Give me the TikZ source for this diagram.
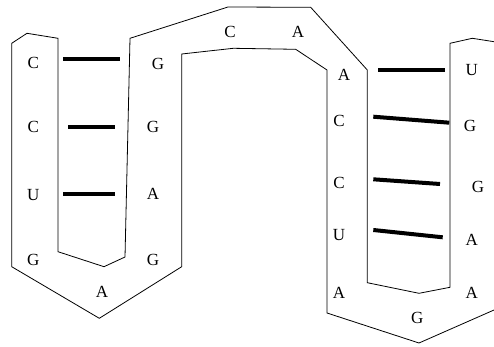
\documentclass[tikz,border=0pt]{standalone}
\usepackage{fontspec}
\setmainfont{Liberation Serif}
\usetikzlibrary{positioning, calc}

\begin{document}
\begin{tikzpicture}[x=1pt, y=-1pt,
    base/.style={font=\fontsize{17}{17}\selectfont, inner sep=0pt},
    pair/.style={line width=4pt}]
\useasboundingbox (0,0) rectangle (494,347);
% backbone
\draw[line width=0.8pt] (494,41.7) -- (472.3,38.3) -- (450,43.3) -- (450,287.3) -- (419,293.3)
  -- (367.3,282.7) -- (367.3,70) -- (310.7,7.3) -- (228,7) -- (130,38.3) -- (125,257)
  -- (104,266.7) -- (58,251.7) -- (58,38.3) -- (27,33.3) -- (11.7,43.3) -- (11.7,266.7)
  -- (99.3,318.3) -- (181.7,266.7) -- (181.7,54) -- (233.3,48.3) -- (295.7,49.3)
  -- (327,70) -- (327,313) -- (419,343) -- (494,310);
% left hairpin
\node[base] (l1) at (33.3,63.3) {C};
\node[base] (l2) at (33.3,126.7) {C};
\node[base] (l3) at (33.3,195) {U};
\node[base] (l4) at (33.3,260) {G};
\node[base] (lloop) at (102,292) {A};
\node[base] (r4) at (153,260) {G};
\node[base] (r3) at (153,194) {A};
\node[base] (r2) at (153,126.7) {G};
\node[base] (r1) at (158,64) {G};
% linker
\node[base] (k1) at (230,32) {C};
\node[base] (k2) at (298,32) {A};
% right hairpin
\node[base] (m1) at (344,75) {A};
\node[base] (m2) at (339,121) {C};
\node[base] (m3) at (339,183) {C};
\node[base] (m4) at (339,235) {U};
\node[base] (m5) at (339,293) {A};
\node[base] (mloop) at (417.3,318) {G};
\node[base] (n5) at (471.7,293) {A};
\node[base] (n4) at (471.7,240) {A};
\node[base] (n3) at (478,187) {G};
\node[base] (n2) at (470,126) {G};
\node[base] (n1) at (471.7,70) {U};
% base pairs
\draw[pair] (63.3,59.3) -- (120,59.3);
\draw[pair] (68.3,126.7) -- (115,126.7);
\draw[pair] (63.3,194) -- (115,194);
\draw[pair] (378,70) -- (445.3,70);
\draw[pair] (373.3,116.7) -- (449.3,122.7);
\draw[pair] (373.3,179.3) -- (440,184);
\draw[pair] (373.3,230) -- (442.7,237.3);
\end{tikzpicture}
\end{document}
